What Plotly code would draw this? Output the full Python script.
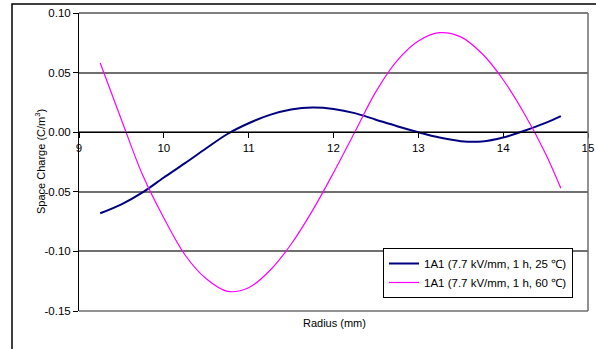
import plotly.graph_objects as go

radius = [9.25, 9.5, 9.75, 10.0, 10.25, 10.5, 10.75, 11.0, 11.25, 11.5, 11.75, 12.0,
          12.25, 12.5, 12.75, 13.0, 13.25, 13.5, 13.75, 14.0, 14.25, 14.5, 14.68]
charge_25c = [-0.068, -0.0605, -0.0505, -0.038, -0.026, -0.0135, -0.0015, 0.0075, 0.0145, 0.019,
              0.0207, 0.0195, 0.016, 0.0105, 0.005, 0.0, -0.0045, -0.0075, -0.0078, -0.0045,
              0.0012, 0.0078, 0.0135]
charge_60c = [0.058, 0.0105, -0.036, -0.072, -0.103, -0.123, -0.1335, -0.1305, -0.116, -0.094,
              -0.066, -0.034, 0.0, 0.034, 0.060, 0.0765, 0.0835, 0.080, 0.066, 0.044,
              0.0155, -0.018, -0.047]
name_25c = "1A1 (7.7 kV/mm, 1 h, 25 ℃)"
name_60c = "1A1 (7.7 kV/mm, 1 h, 60 ℃)"
x_ticks = [9, 10, 11, 12, 13, 14, 15]
y_ticks = [0.10, 0.05, 0.00, -0.05, -0.10, -0.15]

FONT = "Liberation Sans, Arial, sans-serif"

fig = go.Figure()
fig.add_trace(go.Scatter(x=radius, y=charge_25c, mode="lines", name=name_25c,
                         line=dict(color="#000080", width=2, shape="spline", smoothing=1)))
fig.add_trace(go.Scatter(x=radius, y=charge_60c, mode="lines", name=name_60c,
                         line=dict(color="#FF00FF", width=1.2, shape="spline", smoothing=1)))

L, R, T, B = 79, 8, 13, 38
W, H = 596, 349
pw = W - L - R
ph = H - T - B

def px(xp):
    return (xp - L) / pw

def py(yp):
    return (H - B - yp) / ph

fig.update_layout(
    width=W, height=H,
    margin=dict(l=L, r=R, t=T, b=B, autoexpand=False),
    paper_bgcolor="white", plot_bgcolor="white",
    font=dict(family=FONT, size=11, color="black"),
    showlegend=True,
    legend=dict(x=px(573), y=py(298), xanchor="right", yanchor="bottom",
                bordercolor="black", borderwidth=1, bgcolor="white",
                font=dict(size=11.5, family=FONT), tracegroupgap=0,
                itemwidth=30),
    xaxis=dict(range=[9, 15], tickvals=x_ticks, ticktext=[str(v) for v in x_ticks],
               anchor="free", position=0.6, showline=True, linecolor="black", linewidth=1,
               ticks="outside", ticklen=5, tickcolor="black", showgrid=False,
               zeroline=False, tickfont=dict(size=11.5), automargin=False),
    yaxis=dict(range=[-0.15, 0.10], tickvals=y_ticks,
               ticktext=["%.2f" % v for v in y_ticks],
               showline=True, linecolor="black", linewidth=1,
               ticks="outside", ticklen=5, tickcolor="black",
               showgrid=True, gridcolor="#707070", gridwidth=1.5, zeroline=False,
               tickfont=dict(size=11.5), automargin=False),
    shapes=[
        dict(type="line", xref="paper", yref="paper", x0=0, x1=1, y0=1, y1=1,
             line=dict(color="black", width=1)),
        dict(type="line", xref="paper", yref="paper", x0=1, x1=1, y0=0, y1=1,
             line=dict(color="#6e6e6e", width=1.5)),
        dict(type="line", xref="paper", yref="paper", x0=0, x1=1, y0=0, y1=0,
             line=dict(color="#6e6e6e", width=1.5)),
        dict(type="rect", xref="paper", yref="paper", x0=px(12), x1=px(610),
             y0=py(360), y1=py(4), line=dict(color="black", width=1.5)),
    ],
    annotations=[
        dict(text="Radius (mm)", xref="paper", yref="paper", x=px(334), y=py(331),
             showarrow=False, font=dict(size=11, family=FONT)),
        dict(text="Space Charge (C/m<sup>3</sup>)", xref="paper", yref="paper",
             x=px(31), y=py(162), textangle=-90, showarrow=False,
             font=dict(size=11, family=FONT)),
    ],
)

fig.write_html("out.html", config={"displayModeBar": False},
               post_script="document.body.style.margin='0';document.body.style.padding='0';")
